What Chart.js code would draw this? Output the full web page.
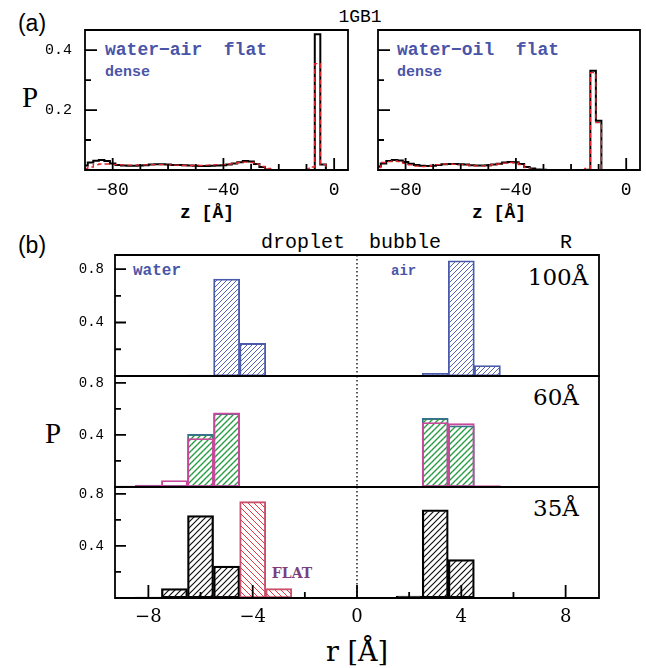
<!DOCTYPE html>
<html>
<head>
<meta charset="utf-8">
<script src="https://cdn.jsdelivr.net/npm/chart.js@4.4.1/dist/chart.umd.min.js"></script>
<style>
  body { margin: 0; background: #fff; width: 646px; height: 668px; position: relative; overflow: hidden; }
  canvas { position: absolute; }
  .t { position: absolute; white-space: pre; line-height: 1; transform: translate(-50%, -50%); color: #000; }
  .l { position: absolute; white-space: pre; line-height: 1; transform: translateY(-50%); }
  .mono { font-family: "Liberation Mono", monospace; }
  .serif { font-family: "DejaVu Serif", serif; }
  .blue { color: #4a55a8; font-weight: bold; font-family: "Liberation Mono", monospace; }
</style>
</head>
<body>

<div class="t" style="left:32px;top:23px;font:23px 'Liberation Sans'">(a)</div>
<div class="t mono" style="left:360px;top:17px;font-size:18px">1GB1</div>
<div class="t" style="left:30px;top:97px;font:29px 'Liberation Serif'">P</div>
<div class="l blue" style="left:105px;top:50px;font-size:18px">water−air  flat</div>
<div class="l blue" style="left:105px;top:72px;font-size:15px">dense</div>
<div class="l blue" style="left:397px;top:50px;font-size:18px">water−oil  flat</div>
<div class="l blue" style="left:397px;top:72px;font-size:15px">dense</div>
<div class="t mono" style="left:207px;top:213px;font-size:18px;font-weight:bold">z [Å]</div>
<div class="t mono" style="left:499px;top:213px;font-size:18px;font-weight:bold">z [Å]</div>

<div class="t" style="left:32px;top:245px;font:23px 'Liberation Sans'">(b)</div>
<div class="t mono" style="left:303px;top:243px;font-size:20px">droplet</div>
<div class="t mono" style="left:405px;top:243px;font-size:20px">bubble</div>
<div class="t mono" style="left:566px;top:243px;font-size:20px">R</div>
<div class="l blue" style="left:133px;top:271px;font-size:16px">water</div>
<div class="l blue" style="left:391px;top:271px;font-size:14px">air</div>
<div class="t serif" style="left:558px;top:277px;font-size:23px">100Å</div>
<div class="t serif" style="left:556px;top:397px;font-size:23px">60Å</div>
<div class="t serif" style="left:556px;top:508px;font-size:23px">35Å</div>
<div class="t serif" style="left:292px;top:573px;font-size:14px;font-weight:bold;color:#7b3f80">FLAT</div>
<div class="t" style="left:53px;top:433px;font:29px 'Liberation Serif'">P</div>
<div class="t serif" style="left:357px;top:651px;font-size:27px">r [Å]</div>

<script>
// ---- (a) flat interfaces: P(z), 2 Å bins
const zCenters = [-90, -88, -86, -84, -82, -80, -78, -76, -74, -72, -70, -68, -66, -64, -62, -60,
  -58, -56, -54, -52, -50, -48, -46, -44, -42, -40, -38, -36, -34, -32, -30, -28,
  -26, -24, -22, -20, -18, -16, -14, -12, -10, -8, -6, -4, -2, 0, 2, 4];
const airBlack = [0.015, 0.025, 0.031, 0.033, 0.030, 0.022, 0.017, 0.015, 0.014, 0.014, 0.015, 0.016, 0.018, 0.019, 0.019, 0.018,
  0.017, 0.017, 0.016, 0.015, 0.014, 0.013, 0.013, 0.014, 0.015, 0.016, 0.018, 0.022, 0.026, 0.030, 0.028, 0.020,
  0.010, 0.002, 0, 0, 0, 0, 0, 0, 0, 0, 0.453, 0.018, 0, 0, 0, 0];
const airRed = [0.005, 0.010, 0.018, 0.020, 0.020, 0.019, 0.018, 0.017, 0.016, 0.016, 0.017, 0.017, 0.018, 0.018, 0.018, 0.017,
  0.016, 0.016, 0.015, 0.015, 0.015, 0.015, 0.016, 0.017, 0.018, 0.018, 0.020, 0.022, 0.025, 0.026, 0.025, 0.020,
  0.012, 0.005, 0.001, 0, 0, 0, 0, 0, 0.004, 0.010, 0.355, 0.018, 0, 0, 0, 0];
const oilBlack = [0.012, 0.022, 0.030, 0.033, 0.032, 0.027, 0.021, 0.017, 0.014, 0.013, 0.014, 0.017, 0.019, 0.020, 0.020, 0.019,
  0.018, 0.016, 0.015, 0.015, 0.016, 0.018, 0.021, 0.025, 0.027, 0.026, 0.020, 0.010, 0.005, 0.002, 0.001, 0,
  0, 0, 0, 0, 0, 0, 0.001, 0.331, 0.164, 0, 0, 0, 0, 0, 0, 0];
const oilRed = [0.008, 0.025, 0.028, 0.030, 0.028, 0.022, 0.017, 0.013, 0.011, 0.012, 0.015, 0.018, 0.020, 0.020, 0.019, 0.018,
  0.017, 0.015, 0.014, 0.014, 0.015, 0.018, 0.020, 0.023, 0.025, 0.024, 0.018, 0.008, 0.003, 0.001, 0, 0,
  0, 0, 0, 0, 0, 0, 0.005, 0.325, 0.158, 0, 0, 0, 0, 0, 0, 0];
const zTicks = [-80, -70, -60, -50, -40, -30, -20, -10, 0];
const zTickLabels = [-80, -40, 0];
const pTicksA = [0.1, 0.2, 0.3, 0.4];
const pTickLabelsA = [0.2, 0.4];

// ---- (b) curved interfaces: P(r), 1 Å bins
const rWater100 = [-7, -6, -5, -4];
const water100 = [0.003, 0.007, 0.725, 0.244];
const rAir100 = [3, 4, 5];
const air100 = [0.020, 0.862, 0.078];

const rWater60 = [-9, -8, -7, -6, -5];
const water60 = [0.008, 0.012, 0.012, 0.404, 0.565];
const water60flat = [0.008, 0.014, 0.050, 0.373, 0.570];
const rAir60 = [3, 4, 5];
const air60 = [0.527, 0.470, 0.005];
const rAir60flat = [2, 3, 4, 5];
const air60flat = [0.004, 0.496, 0.488, 0.010];

const rWater35 = [-9, -8, -7, -6, -5];
const water35 = [0.003, 0.008, 0.073, 0.633, 0.245];
const rFlat35 = [-5, -4, -3];
const flat35 = [0.008, 0.740, 0.073];
const rAir35 = [2, 3, 4, 5];
const air35 = [0.015, 0.677, 0.296, 0.003];

const rTicks = [-8, -6, -4, -2, 0, 2, 4, 6, 8];
const rTickLabels = [-8, -4, 0, 4, 8];
const pTicksB = [0.2, 0.4, 0.6, 0.8];
const pTickLabelsB = [0.4, 0.8];

const PAD = 4;
const fmt = v => v < 0 ? '\u2212' + Math.abs(v) : String(v);
const has = (list, v) => list.some(m => Math.abs(m - v) < 1e-6);
const pts = (xs, ys) => xs.map((x, i) => ({ x: x, y: ys[i] }));

function hatch(color, g, dir, lw, dash) {
  const c = document.createElement('canvas');
  c.width = g; c.height = g;
  const k = c.getContext('2d');
  k.strokeStyle = color; k.lineWidth = lw; k.lineCap = 'square';
  if (dash) k.setLineDash(dash);
  k.beginPath();
  if (dir === '/') {
    k.moveTo(0, g); k.lineTo(g, 0);
    k.moveTo(-1, 1); k.lineTo(1, -1);
    k.moveTo(g - 1, g + 1); k.lineTo(g + 1, g - 1);
  } else {
    k.moveTo(0, 0); k.lineTo(g, g);
    k.moveTo(g - 1, -1); k.lineTo(g + 1, 1);
    k.moveTo(-1, g - 1); k.lineTo(1, g + 1);
  }
  k.stroke();
  return k.createPattern(c, 'repeat');
}

// frame plus inward tick marks in one path, then the dotted r=0 line
function frameTicks(marks, zeroLine) {
  return {
    id: 'frameTicks',
    afterDraw(chart) {
      const ctx = chart.ctx, a = chart.chartArea;
      ctx.save();
      ctx.setLineDash([]);
      ctx.strokeStyle = '#000';
      ctx.lineWidth = 1.8;
      ctx.beginPath();
      ctx.rect(a.left, a.top, a.right - a.left, a.bottom - a.top);
      const sx = chart.scales.x, sy = chart.scales.y;
      if (marks.x) {
        marks.x.values.forEach(v => {
          const len = has(marks.x.major, v) ? marks.x.long : marks.x.short;
          const p = sx.getPixelForValue(v);
          ctx.moveTo(p, a.bottom);
          ctx.lineTo(p, a.bottom - len);
        });
      }
      if (marks.y) {
        marks.y.values.forEach(v => {
          const len = has(marks.y.major, v) ? marks.y.long : marks.y.short;
          const p = sy.getPixelForValue(v);
          ctx.moveTo(a.left, p);
          ctx.lineTo(a.left + len, p);
        });
      }
      ctx.stroke();
      if (zeroLine) {
        const x0 = sx.getPixelForValue(0);
        ctx.lineWidth = 1.3;
        ctx.setLineDash([1.5, 2.5]);
        ctx.beginPath(); ctx.moveTo(x0, a.top); ctx.lineTo(x0, a.bottom); ctx.stroke();
      }
      ctx.restore();
    }
  };
}

function mount(area, yW, xH) {
  const c = document.createElement('canvas');
  const w = area.r - area.l + yW + 2 * PAD, h = area.b - area.t + xH + 2 * PAD;
  c.width = w; c.height = h;
  c.style.left = (area.l - yW - PAD) + 'px';
  c.style.top = (area.t - PAD) + 'px';
  c.style.width = w + 'px'; c.style.height = h + 'px';
  document.body.appendChild(c);
  return c;
}

function axis(o) {
  return {
    type: 'linear', min: o.min, max: o.max, offset: false,
    afterFit: s => {
      if (o.w !== undefined) s.width = o.w;
      if (o.h !== undefined) s.height = o.h;
      s.paddingTop = 0; s.paddingBottom = 0; s.paddingLeft = 0; s.paddingRight = 0;
    },
    grid: { display: false, drawTicks: false }, border: { display: false },
    ticks: {
      display: o.show, stepSize: o.step, includeBounds: false, autoSkip: false,
      maxRotation: 0, minRotation: 0, padding: o.pad || 0, color: '#000',
      font: { family: o.family || 'Liberation Mono', size: o.size || 14 },
      callback: v => has(o.labels || [], v) ? fmt(v) : ''
    }
  };
}

const base = () => ({
  responsive: false, animation: false, events: [],
  layout: { padding: PAD },
  plugins: { legend: { display: false }, tooltip: { enabled: false } }
});

// ---- (a) panels
function stepLine(data, color, width, dash) {
  return { data: pts(zCenters, data), borderColor: color, borderWidth: width, borderDash: dash || [],
    stepped: 'middle', pointRadius: 0, fill: false };
}
const marksA = {
  x: { values: zTicks, major: zTickLabels, long: 12, short: 6 },
  y: { values: pTicksA, major: pTickLabelsA, long: 12, short: 6 }
};
function panelA(area, red, black, showY) {
  const opts = base();
  opts.scales = {
    x: axis({ min: -90, max: 5, step: 10, show: true, labels: zTickLabels, h: 30, pad: 9, size: 18 }),
    y: axis({ min: 0, max: 0.467, step: 0.1, show: showY, labels: pTickLabelsA, w: showY ? 45 : 0, pad: 13, size: 15 })
  };
  new Chart(mount(area, showY ? 45 : 0, 30), {
    type: 'line',
    data: { datasets: [stepLine(red, '#e0262b', 1.3, [5, 3]), stepLine(black, '#000', 2)] },
    options: opts,
    plugins: [frameTicks(marksA, false)]
  });
}
panelA({ l: 85, r: 348, t: 30, b: 170 }, airRed, airBlack, true);
panelA({ l: 378, r: 640, t: 30, b: 170 }, oilRed, oilBlack, false);

// ---- (b) panels
const blueHatch = hatch('#5262b4', 5, '/', 1);
const greenHatch = hatch('#1f9a3c', 6, '/', 1.3, [2.8, 1.44]);
const blackHatch = hatch('#111', 6, '/', 1.2);
const redHatch = hatch('#e0393f', 6, '\\', 1);

function bars(xs, ys, fillColor, line, width) {
  return { data: pts(xs, ys), backgroundColor: fillColor, borderColor: line, borderWidth: width,
    borderSkipped: false, barPercentage: 1, categoryPercentage: 1, grouped: false };
}
function panelB(area, ymax, datasets, bottom) {
  const marks = {
    x: bottom ? { values: rTicks, major: rTickLabels, long: 13, short: 6 } : null,
    y: { values: pTicksB, major: pTickLabelsB, long: 11, short: 6 }
  };
  const opts = base();
  opts.scales = {
    x: axis({ min: -9.28, max: 9.28, step: 2, show: bottom, labels: rTickLabels, h: bottom ? 40 : 0,
      pad: 9, family: 'DejaVu Serif', size: 18 }),
    y: axis({ min: 0, max: ymax, step: 0.2, show: true, labels: pTickLabelsB, w: 45, pad: 11, size: 14 })
  };
  new Chart(mount(area, 45, bottom ? 40 : 0), {
    type: 'bar', data: { datasets: datasets }, options: opts, plugins: [frameTicks(marks, true)]
  });
}

panelB({ l: 115, r: 599, t: 255, b: 376 }, 0.905, [
  bars(rWater100, water100, blueHatch, '#4a5aaa', 1.2),
  bars(rAir100, air100, blueHatch, '#4a5aaa', 1.2)
], false);

panelB({ l: 115, r: 599, t: 376, b: 487 }, 0.853, [
  bars(rWater60, water60flat, 'rgba(0,0,0,0)', '#c8489a', 1.3),
  bars(rAir60flat, air60flat, 'rgba(0,0,0,0)', '#c8489a', 1.3),
  bars(rWater60, water60, greenHatch, '#3a6f90', 1.2),
  bars(rAir60, air60, greenHatch, '#3a6f90', 1.2)
], false);

panelB({ l: 115, r: 599, t: 487, b: 598 }, 0.853, [
  bars(rFlat35, flat35, redHatch, '#c8506e', 1.3),
  bars(rWater35, water35, blackHatch, '#000', 1.6),
  bars(rAir35, air35, blackHatch, '#000', 1.6)
], true);
</script>
</body>
</html>
